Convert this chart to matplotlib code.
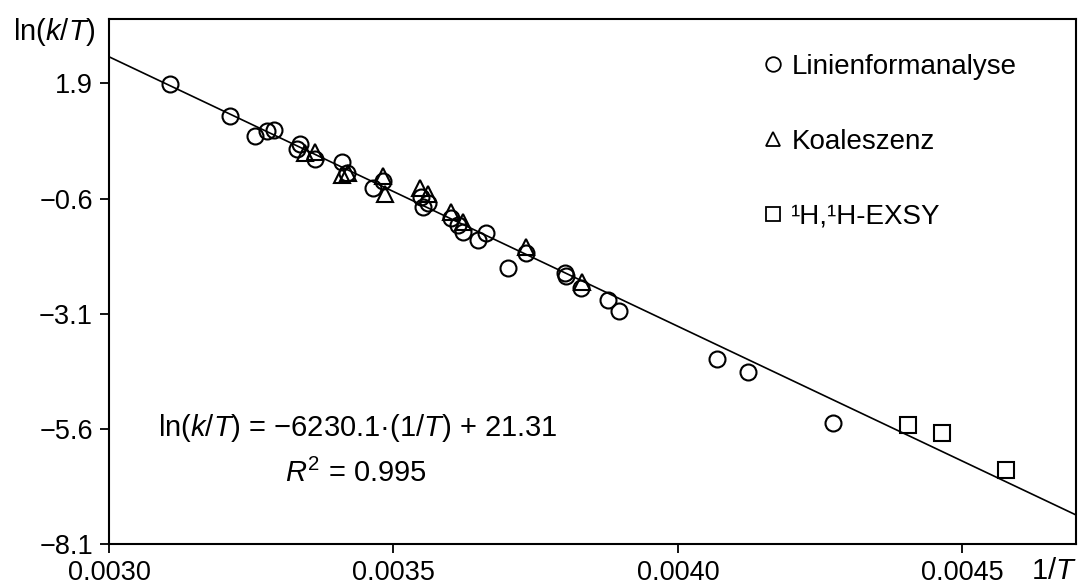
import numpy as np
import matplotlib.pyplot as plt
from matplotlib.lines import Line2D

plt.rcParams['font.family'] = ['Liberation Sans', 'DejaVu Sans']
plt.rcParams['mathtext.fontset'] = 'custom'
plt.rcParams['mathtext.rm'] = 'Liberation Sans'
plt.rcParams['mathtext.it'] = 'Liberation Sans:italic'

# Linienformanalyse (circles)
circ_x = [0.003107, 0.003213, 0.003257, 0.003277, 0.003290, 0.003336, 0.003330,
          0.003362, 0.003409, 0.003418, 0.003482, 0.003465, 0.003549, 0.003561,
          0.003552, 0.003614, 0.003623, 0.003602, 0.003649, 0.003662, 0.003733,
          0.003702, 0.003801, 0.003804, 0.003830, 0.003877, 0.003897, 0.004068,
          0.004123, 0.004272]
circ_y = [1.88, 1.20, 0.76, 0.87, 0.89, 0.58, 0.47,
          0.27, 0.20, -0.05, -0.21, -0.38, -0.56, -0.70,
          -0.78, -1.18, -1.32, -1.03, -1.50, -1.34, -1.79,
          -2.10, -2.22, -2.28, -2.55, -2.80, -3.04, -4.09,
          -4.37, -5.48]

# Koaleszenz (triangles)
tri_x = [0.003344, 0.003362, 0.003409, 0.003420, 0.003482, 0.003485,
         0.003547, 0.003561, 0.003602, 0.003623, 0.003733, 0.003832]
tri_y = [0.38, 0.42, -0.09, -0.05, -0.11, -0.49,
         -0.38, -0.49, -0.89, -1.10, -1.65, -2.41]

# 1H,1H-EXSY (squares)
sq_x = [0.004405, 0.004465, 0.004576]
sq_y = [-5.52, -5.68, -6.49]

# regression line as drawn
fit_x = [0.0030, 0.0047]
fit_y = [2.48, -7.47]

xticks = [0.0030, 0.0035, 0.0040, 0.0045]
xtick_labels = ['0.0030', '0.0035', '0.0040', '0.0045']
yticks = [1.9, -0.6, -3.1, -5.6, -8.1]
ytick_labels = ['1.9', '\u22120.6', '\u22123.1', '\u22125.6', '\u22128.1']

fig = plt.figure(figsize=(10.82, 5.86), dpi=100)
ax = fig.add_axes([0.1007, 0.0717, 0.8938, 0.8959])

ax.plot(fit_x, fit_y, color='black', lw=1.2, zorder=1)
ax.plot(circ_x, circ_y, 'o', ms=11.5, mfc='none', mec='black', mew=1.5, zorder=2)
ax.plot(tri_x, tri_y, '^', ms=12, mfc='none', mec='black', mew=1.5, zorder=2)
ax.plot(sq_x, sq_y, 's', ms=11, mfc='none', mec='black', mew=1.5, zorder=2)

ax.set_xlim(0.0030, 0.0047)
ax.set_ylim(-8.1, 3.30)
ax.set_xticks(xticks)
ax.set_xticklabels(xtick_labels)
ax.set_yticks(yticks)
ax.set_yticklabels(ytick_labels)
ax.tick_params(axis='both', labelsize=19.5, width=1.3, length=6.5, direction='out')
ax.tick_params(axis='x', pad=5)
ax.tick_params(axis='y', pad=5)
for s in ax.spines.values():
    s.set_linewidth(1.5)

handles = [
    Line2D([], [], marker='o', ls='none', ms=10.5, mfc='none', mec='black', mew=1.3),
    Line2D([], [], marker='^', ls='none', ms=10.5, mfc='none', mec='black', mew=1.3),
    Line2D([], [], marker='s', ls='none', ms=10.5, mfc='none', mec='black', mew=1.3),
]
labels = ['Linienformanalyse', 'Koaleszenz', '\u00b9H,\u00b9H-EXSY']
ax.legend(handles, labels, loc='upper left', bbox_to_anchor=(0.674, 0.933),
          frameon=False, fontsize=20, handlelength=0.9, handletextpad=0.2,
          labelspacing=1.75, borderpad=0, borderaxespad=0)

ax.text(0.0507, 0.221, 'ln($k$/$T$) = \u22126230.1\u00b7(1/$T$) + 21.31',
        transform=ax.transAxes, fontsize=21, ha='left', va='center')
ax.text(0.255, 0.135, '$R^2$ = 0.995', transform=ax.transAxes,
        fontsize=21, ha='center', va='center')

fig.text(0.012, 0.945, 'ln($k$/$T$)', fontsize=21, ha='left', va='center')
fig.text(0.995, 0.025, '1/$T$', fontsize=21, ha='right', va='center')

fig.savefig('out.png', dpi=100)
